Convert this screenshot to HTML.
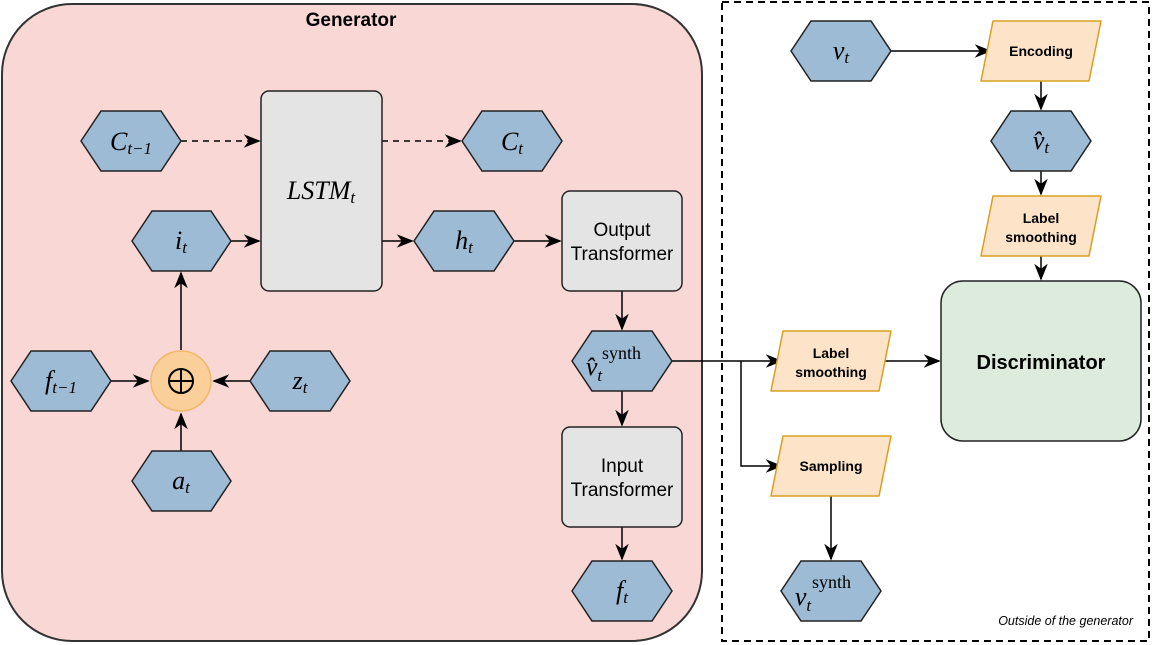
<!DOCTYPE html>
<html><head><meta charset="utf-8"><style>body{margin:0;background:#fff}svg{display:block}</style></head><body>
<svg width="1155" height="645" viewBox="0 0 1155 645" xmlns="http://www.w3.org/2000/svg" font-family="Liberation Sans, sans-serif">
<defs>
<marker id="b" viewBox="0 0 10 10" refX="9" refY="5" markerWidth="17" markerHeight="17" orient="auto" markerUnits="userSpaceOnUse"><path d="M0,1 L10,5 L0,9 L3,5 z" fill="#000"/></marker>
</defs>
<rect x="2" y="4" width="700" height="637" rx="70" fill="#f9d7d5" stroke="#333" stroke-width="2"/>
<text x="351" y="26" text-anchor="middle" font-weight="bold" font-size="19">Generator</text>
<rect x="722" y="2" width="427" height="639" fill="none" stroke="#000" stroke-width="2" stroke-dasharray="7,5"/>
<text x="1133" y="625" text-anchor="end" font-style="italic" font-size="12.5">Outside of the generator</text>

<g stroke="#000" stroke-width="1.5" fill="none">
<path d="M181,141 H259" stroke-dasharray="6,5" marker-end="url(#b)"/>
<path d="M382,141 H460" stroke-dasharray="6,5" marker-end="url(#b)"/>
<path d="M231,241 H259" marker-end="url(#b)"/>
<path d="M382,241 H412" marker-end="url(#b)"/>
<path d="M514,241 H560" marker-end="url(#b)"/>
<path d="M622,291 V329" marker-end="url(#b)"/>
<path d="M622,391 V425" marker-end="url(#b)"/>
<path d="M622,527 V559" marker-end="url(#b)"/>
<path d="M181,350 V273" marker-end="url(#b)"/>
<path d="M111,381 H148" marker-end="url(#b)"/>
<path d="M250,381 H214" marker-end="url(#b)"/>
<path d="M181,451 V414" marker-end="url(#b)"/>
<path d="M672,361 H781" marker-end="url(#b)"/>
<path d="M741,361 V466 H781" marker-end="url(#b)"/>
<path d="M881,361 H939" marker-end="url(#b)"/>
<path d="M831,496 V559" marker-end="url(#b)"/>
<path d="M891,51 H990" marker-end="url(#b)"/>
<path d="M1041,81 V109" marker-end="url(#b)"/>
<path d="M1041,171 V194" marker-end="url(#b)"/>
<path d="M1041,256 V279" marker-end="url(#b)"/>
</g>

<g fill="#e4e4e4" stroke="#222" stroke-width="1.5">
<rect x="261" y="91" width="121" height="200" rx="8"/>
<rect x="562" y="191" width="120" height="100" rx="8"/>
<rect x="562" y="427" width="120" height="100" rx="8"/>
</g>
<rect x="941" y="281" width="200" height="160" rx="22" fill="#dcebdb" stroke="#222" stroke-width="1.5"/>
<circle cx="181" cy="381" r="30" fill="#fbcf99" stroke="#f0b86c" stroke-width="1.5"/>
<circle cx="181" cy="381" r="12" fill="none" stroke="#000" stroke-width="2"/>
<path d="M169,381 H193 M181,369 V393" stroke="#000" stroke-width="2"/>

<g fill="#9dbbd4" stroke="#222" stroke-width="1.5">
<path d="M81,141 L101,111 H161 L181,141 L161,171 H101 Z"/>
<path d="M132,241 L152,211 H211 L231,241 L211,271 H152 Z"/>
<path d="M462,141 L482,111 H542 L562,141 L542,171 H482 Z"/>
<path d="M414,241 L434,211 H494 L514,241 L494,271 H434 Z"/>
<path d="M572,361 L592,331 H652 L672,361 L652,391 H592 Z"/>
<path d="M572,591 L592,561 H652 L672,591 L652,621 H592 Z"/>
<path d="M11,381 L31,351 H91 L111,381 L91,411 H31 Z"/>
<path d="M250,381 L270,351 H330 L350,381 L330,411 H270 Z"/>
<path d="M132,481 L152,451 H211 L231,481 L211,511 H152 Z"/>
<path d="M791,51 L811,21 H871 L891,51 L871,81 H811 Z"/>
<path d="M991,141 L1011,111 H1071 L1091,141 L1071,171 H1011 Z"/>
<path d="M781,591 L801,561 H861 L881,591 L861,621 H801 Z"/>
</g>

<g fill="#fde4c9" stroke="#d8a020" stroke-width="1.5" stroke-linejoin="round">
<path d="M981,81 L993,21 H1101 L1089,81 Z"/>
<path d="M981,256 L993,196 H1101 L1089,256 Z"/>
<path d="M771,391 L783,331 H891 L879,391 Z"/>
<path d="M771,496 L783,436 H891 L879,496 Z"/>
</g>

<g font-family="Liberation Serif, serif" font-style="italic" font-size="26" text-anchor="middle">
<text x="131" y="150">C<tspan font-size="17" dy="4">t−1</tspan></text>
<text x="181" y="249">i<tspan font-size="17" dy="4">t</tspan></text>
<text x="321" y="199">LSTM<tspan font-size="17" dy="4">t</tspan></text>
<text x="512" y="150">C<tspan font-size="17" dy="4">t</tspan></text>
<text x="464" y="249">h<tspan font-size="17" dy="4">t</tspan></text>
<text x="61" y="389">f<tspan font-size="17" dy="4">t−1</tspan></text>
<text x="300" y="389">z<tspan font-size="17" dy="4">t</tspan></text>
<text x="181" y="489">a<tspan font-size="17" dy="4">t</tspan></text>
<text x="622" y="599">f<tspan font-size="17" dy="4">t</tspan></text>
<text x="841" y="59">v<tspan font-size="17" dy="4">t</tspan></text>
<text x="1041" y="149">v̂<tspan font-size="17" dy="4">t</tspan></text>
<text x="594" y="375">v̂<tspan font-size="17" dy="6">t</tspan></text>
<text x="803" y="605">v<tspan font-size="17" dy="6">t</tspan></text>
</g>
<g font-family="Liberation Serif, serif" font-size="18">
<text x="602" y="359">synth</text>
<text x="812" y="588">synth</text>
</g>

<g font-size="19" text-anchor="middle">
<text x="622" y="236">Output</text><text x="622" y="260">Transformer</text>
<text x="622" y="472">Input</text><text x="622" y="496">Transformer</text>
</g>
<g font-size="14" font-weight="bold" text-anchor="middle">
<text x="1041" y="56">Encoding</text>
<text x="1041" y="223">Label</text><text x="1041" y="242">smoothing</text>
<text x="831" y="358">Label</text><text x="831" y="377">smoothing</text>
<text x="831" y="471">Sampling</text>
</g>
<text x="1041" y="369" text-anchor="middle" font-size="20" font-weight="bold">Discriminator</text>
</svg>
</body></html>
